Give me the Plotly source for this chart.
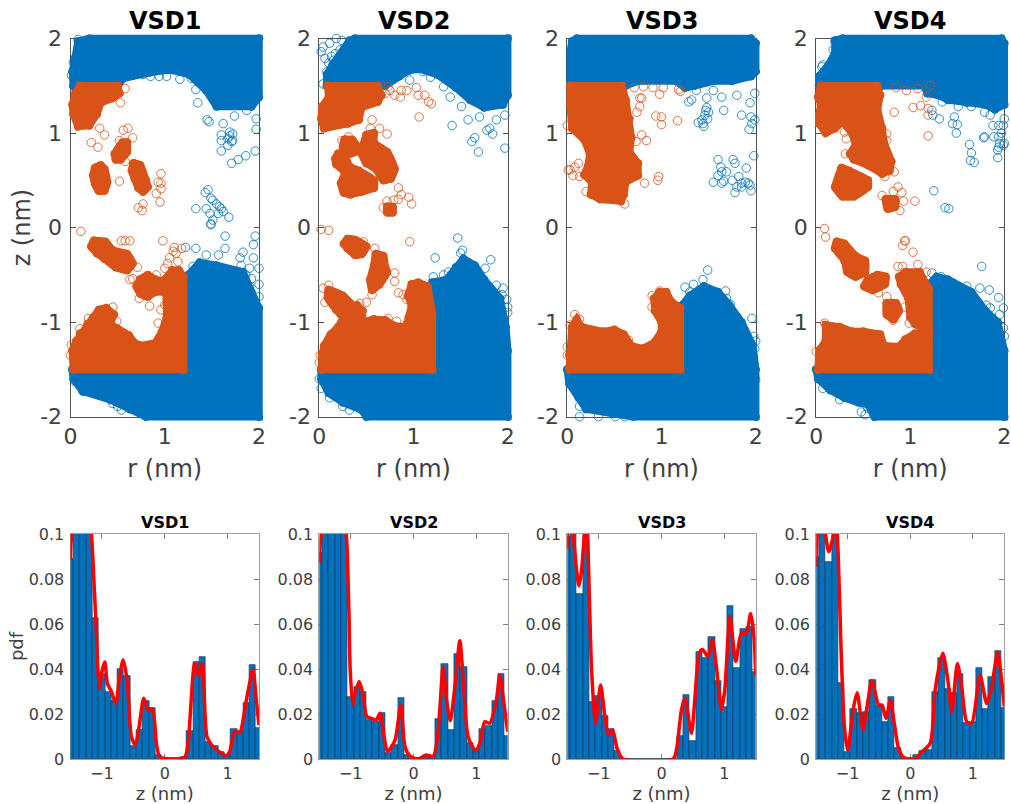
import plotly.graph_objects as go

W, H = 1011, 804
BLUE = "#0072BD"
ORANGE = "#D95319"
RED = "#FF0000"
AXC = "#505050"
FONT = "DejaVu Sans"
NAMES = ["VSD1", "VSD2", "VSD3", "VSD4"]

# ---- r/z maps: dense regions (outlines, r,z in nm) and isolated points (r,z in nm) ----
v1_blue_regions = [
    [(.03,1.5),(.02,1.65),(.05,1.8),(.08,1.97),(.2,2),(2,2),(2,1.38),(1.92,1.28),(1.55,1.28),(1.44,1.45),(1.26,1.62),(1.05,1.67),(.84,1.64),(.56,1.58),(.5,1.5)],
    [(.02,-1.5),(.03,-1.6),(.13,-1.73),(.42,-1.82),(.63,-1.92),(.8,-2),(2,-2),(2,-.85),(1.92,-.68),(1.83,-.47),(1.55,-.4),(1.37,-.37),(1.25,-.5),(1.2,-.6),(1.2,-1.5)],
]
v1_orange_regions = [
    [(.1,1.5),(.5,1.5),(.52,1.42),(.45,1.37),(.32,1.32),(.28,1.2),(.2,1.08),(.08,1.07),(.03,1.2),(.02,1.3),(.05,1.42)],
    [(.47,.78),(.55,.9),(.6,.9),(.6,.8),(.53,.72),(.48,.72)],
    [(.26,.63),(.32,.66),(.36,.62),(.39,.48),(.36,.39),(.3,.39),(.26,.46),(.24,.55)],
    [(.67,.68),(.74,.66),(.8,.5),(.82,.43),(.77,.38),(.72,.42),(.68,.52),(.65,.6)],
    [(.03,-1.5),(1.2,-1.5),(1.2,-.52),(1.15,-.45),(1.08,-.45),(1,-.55),(1.02,-.8),(1.02,-.95),(.97,-1.1),(.9,-1.22),(.75,-1.25),(.68,-1.22),(.62,-1.14),(.5,-1.07),(.42,-1.02),(.46,-.92),(.38,-.85),(.3,-.87),(.24,-.95),(.18,-1.02),(.1,-1.12),(.06,-1.2),(.02,-1.3)],
    [(.25,-.14),(.37,-.15),(.45,-.24),(.6,-.28),(.66,-.38),(.6,-.45),(.48,-.42),(.36,-.33),(.28,-.27),(.22,-.2)],
    [(.74,-.55),(.82,-.5),(.9,-.55),(1.02,-.58),(1.02,-.68),(.9,-.68),(.82,-.73),(.74,-.7),(.7,-.62)],
]
v1_blue_points = [(1.35,1.32),(1.33,1.46),(1.45,1.14),(1.47,1.12),(1.62,1.1),(1.97,1.04),(1.96,.81),(1.6,.81),(1.86,.76),(1.78,.72),(1.71,.68),(1.6,.98),(1.6,.92),(1.69,1.01),(1.72,.99),(1.67,.94),(1.71,.91),(1.67,.87),(1.72,.92),(1.69,.97),
    (1.33,.2),(1.43,.37),(1.46,.4),(1.51,.29),(1.49,.31),(1.44,.2),(1.55,.25),(1.48,.15),(1.51,.08),(1.49,.04),(1.6,.2),(1.62,.17),(1.68,.11),(1.57,.15),(1.58,.22),
    (.85,1.6),(.94,1.6),(1.02,1.6),(1.16,1.57),(.77,1.62),(.66,1.61),(1.28,1.58),(1.74,1.18),(1.87,1.24),(1.97,1.15),(.08,1.99),(.03,1.75),(.01,1.61),
    (1.49,.03),(1.64,-.09),(1.96,-.09),(1.94,-.18),(1.22,-.21),(1.33,-.22),(1.64,-.22),(1.57,-.29),(1.44,-.29),(1.83,-.26),(1.8,-.32),(1.94,-.32),(1.3,-.41),(2,-.43),(1.9,-.43),(1.92,-.54),(2,-.6),(1.9,-.62),(2,-.73),(1.81,-.4),(1.86,-.5),
    (.45,-1.86),(.54,-1.93),(.5,-1.89),(.58,-1.88),(.13,-1.73),(.05,-1.63)]
v1_orange_points = [(.58,1.47),(.53,1.32),(.36,.98),(.31,1.05),(.22,.9),(.29,.85),(.56,1.03),(.61,1.05),(.66,.95),(.59,.89),(.52,.92),(.52,.49),(.96,.57),(.96,.47),(.95,.27),(.91,.36),(.96,.41),(.77,.25),(.72,.21),(.76,.18),(.93,.48),(.58,.7),
    (.11,-.04),(.54,-.14),(.58,-.14),(.63,-.14),(.98,-.14),(1.1,-.21),(1.18,-.22),(1.05,-.32),(1.03,-.38),(1.12,-.27),(1.09,-.25),(1.14,-.36),(.71,-.42),(.63,-.55),(.66,-.54),(.84,-.83),(.73,-.75),(.96,-.87),(.93,-1.01),(.45,-.84),(.19,-.96),(.1,-1.07),(.01,-1.24),(0,-1.35),(.49,-.99),(1,-.82),(.91,-.5),(1,-.43)]

v2_blue_regions = [
    [(.08,1.5),(.08,1.62),(.14,1.72),(.28,1.9),(.32,1.98),(.38,2),(2,2),(2,1.4),(1.95,1.3),(1.75,1.27),(1.6,1.35),(1.45,1.48),(1.25,1.62),(1.05,1.68),(.95,1.66),(.85,1.6),(.7,1.5)],
    [(.02,-1.5),(.02,-1.6),(.1,-1.75),(.25,-1.85),(.45,-1.93),(.5,-2),(2,-2),(2,-1.3),(1.98,-1.05),(1.92,-.75),(1.75,-.55),(1.65,-.4),(1.53,-.33),(1.45,-.42),(1.35,-.55),(1.2,-.58),(1.2,-1.5)],
]
v2_orange_regions = [
    [(.09,1.5),(.62,1.5),(.66,1.4),(.62,1.33),(.45,1.27),(.42,1.14),(.3,1.1),(.15,1.08),(.05,1.05),(.02,1.15),(.03,1.28),(.1,1.38)],
    [(.5,.98),(.58,1),(.58,.9),(.72,.8),(.8,.62),(.76,.52),(.68,.5),(.6,.62),(.5,.68),(.45,.78),(.47,.88)],
    [(.2,.78),(.27,.76),(.32,.65),(.42,.6),(.58,.5),(.58,.42),(.45,.38),(.33,.35),(.26,.37),(.23,.47),(.27,.58),(.18,.67),(.17,.73)],
    [(.27,.93),(.35,.93),(.42,.82),(.32,.78),(.25,.85)],
    [(.72,.22),(.78,.22),(.78,.16),(.72,.16)],
    [(.03,-1.5),(1.2,-1.5),(1.2,-.9),(1.17,-.78),(1.15,-.62),(1.05,-.58),(.98,-.6),(.94,-.72),(.98,-.82),(.95,-.95),(.92,-1.05),(.8,-1.04),(.7,-.98),(.58,-.97),(.45,-1),(.46,-.88),(.4,-.82),(.3,-.88),(.2,-1.05),(.12,-1.13),(.05,-1.25),(.03,-1.35)],
    [(.1,-.66),(.25,-.72),(.33,-.8),(.36,-.9),(.28,-.97),(.18,-.87),(.09,-.74)],
    [(.3,-.12),(.38,-.13),(.5,-.2),(.45,-.28),(.38,-.29),(.3,-.22),(.26,-.17)],
    [(.6,-.28),(.68,-.3),(.7,-.42),(.72,-.47),(.64,-.6),(.56,-.66),(.54,-.55),(.58,-.4)],
]
v2_blue_points = [(.04,1.91),(.02,1.86),(.06,1.79),(.1,1.74),(.11,1.95),(.18,2),(.24,1.98),(.08,1.65),(.04,1.52),(.13,1.81),(.17,1.84),(.22,1.88),(.15,1.77),
    (1.41,1.08),(1.58,1.14),(1.7,1.17),(1.97,1.19),(1.88,1.14),(1.78,1.03),(1.81,1.05),(1.84,.99),(1.65,.95),(1.62,.91),(1.69,.8),(1.97,.84),(1.51,1.28),(1.39,1.38),(1.32,1.49),(1.18,1.59),(.96,1.56),(1.03,1.68),(1.1,1.65),
    (1.47,-.11),(1.23,-.32),(1.52,-.24),(1.5,-.27),(1.82,-.34),(1.76,-.43),(1.37,-.47),(1.42,-.52),(1.21,-.52),(1.32,-.5),(1.88,-.61),(1.95,-.64),(2,-.84),(2,-.9),(1.99,-.76),(1.94,-.71),(.11,-1.8),(.32,-1.93),(.02,-1.7),(.25,-1.89),(0,-1.6)]
v2_orange_points = [(.73,1.49),(.8,1.4),(.86,1.38),(.93,1.45),(1.03,1.48),(1.05,1.4),(1.12,1.4),(1.16,1.33),(1.19,1.31),(1.06,1.17),(.75,1.45),(.87,1.45),(.7,1.42),
    (.84,.42),(.84,.3),(.95,.32),(.98,.25),(.72,.28),(.79,.29),(.87,.35),(.68,.21),(.56,1.14),(.54,1.05),(.72,.99),(.64,1.05),(.31,.96),(.24,.92),(.02,-.02),(.1,-.03),
    (.96,-.15),(.59,-.22),(.8,-.48),(.8,-.57),(.84,-.69),(.89,-.71),(.93,-.76),(.43,-.8),(.5,-.79),(.56,-.71),(.06,-.79),(.1,-.61),(.04,-.64),(.73,-.96),(.82,-.99),(.93,-1.02),(0,-1.43),(.01,-1.35),(.43,-.89),(.47,-.15)]

v3_blue_regions = [
    [(.03,1.5),(.03,1.85),(.05,1.97),(.1,2),(1.95,2),(2,1.95),(2,1.65),(1.95,1.6),(1.75,1.55),(1.55,1.55),(1.35,1.5),(1.25,1.48),(1.15,1.55),(.75,1.55),(.62,1.5)],
    [(.0,-1.5),(.02,-1.65),(.12,-1.8),(.2,-1.92),(.5,-1.97),(.7,-2),(2,-2),(2,-1.5),(1.97,-1.25),(1.85,-1),(1.72,-.82),(1.6,-.68),(1.45,-.62),(1.3,-.72),(1.22,-.82),(1.2,-1.5)],
]
v3_orange_regions = [
    [(.03,1.5),(.58,1.5),(.62,1.35),(.66,1.15),(.68,.95),(.66,.8),(.75,.68),(.75,.55),(.62,.48),(.6,.35),(.57,.28),(.35,.3),(.25,.35),(.26,.48),(.18,.56),(.22,.65),(.24,.78),(.18,.93),(.05,1.05),(.03,1.3)],
    [(.02,-1.5),(1.2,-1.5),(1.2,-.85),(1.1,-.78),(1.05,-.68),(.98,-.68),(.92,-.75),(.93,-.88),(1,-1),(1,-1.1),(.92,-1.22),(.8,-1.28),(.68,-1.25),(.6,-1.13),(.5,-1.08),(.38,-1.1),(.15,-1.05),(.1,-.97),(.05,-1.05),(.02,-1.35)],
]
v3_blue_points = [(1.32,1.35),(1.29,1.33),(1.48,1.37),(1.64,1.38),(1.37,1.45),(1.55,1.45),(1.66,1.24),(1.85,1.19),(1.94,1.32),(1.95,1.17),(1.99,1.14),(1.93,1.04),(1.96,1.1),(1.8,1.4),(1.99,1.42),
    (1.48,1.27),(1.5,1.22),(1.46,1.19),(1.43,1.14),(1.44,1.1),(1.39,1.11),(1.49,1.15),(1.45,1.07),(1.47,1.24),
    (1.6,.72),(1.76,.72),(1.78,.68),(1.98,.76),(1.9,.63),(1.63,.64),(1.64,.59),(1.6,.55),(1.55,.48),(1.64,.47),(1.66,.49),(1.75,.5),(1.82,.54),(1.8,.43),(1.78,.37),(1.85,.47),(1.89,.48),(1.94,.45),(1.92,.47),(1.95,.39),(1.69,.59),(1.85,.43),
    (1.49,-.45),(1.44,-.55),(1.34,-.6),(1.25,-.63),(1.3,-.68),(1.68,-.67),(1.73,-.81),(1.69,-.75),(1.8,-.94),(1.96,-.96),(1.98,-1.15),(2,-1.2),(1.89,-1.13),(1.99,-1.28),(.13,-2),(.13,-1.89),(.33,-2),(.51,-2),(.61,-2),(2,-1.61)]
v3_orange_points = [(0,1.08),(.79,1.37),(.77,1.37),(.77,1.28),(.74,1.22),(.94,1.18),(1,1.17),(1,1.09),(1.17,1.13),(.79,.98),(.84,.92),(.73,.91),(.97,.54),(.96,.5),(.82,.47),(.71,1.48),(.81,1.49),(.91,1.48),(1.02,1.48),(.98,1.41),(1.18,1.46),(1.2,1.44),(.61,.25),(.03,.61),(.12,.68),(.06,.55),(.13,.54),(.08,.64),(.01,.61),(.2,.38),
    (.9,-.72),(.9,-.84),(.98,-.67),(.08,-.92),(.13,-.97),(.03,-1.03),(0,-1.26),(0,-1.35),(.65,-1.19),(.81,-1.29)]

v4_blue_regions = [
    [(.03,1.5),(.03,1.6),(.13,1.72),(.2,1.85),(.2,1.98),(.28,2),(1.97,2),(2,1.95),(2,1.3),(1.9,1.25),(1.8,1.3),(1.6,1.32),(1.4,1.35),(1.3,1.4),(1.18,1.42),(1.15,1.5),(.7,1.5)],
    [(.0,-1.5),(.02,-1.6),(.15,-1.72),(.3,-1.8),(.45,-1.85),(.55,-1.87),(.62,-2),(2,-2),(2,-1.3),(1.93,-1),(1.8,-.88),(1.65,-.68),(1.4,-.55),(1.28,-.52),(1.2,-.6),(1.2,-1.5)],
]
v4_orange_regions = [
    [(.05,1.5),(.65,1.5),(.68,1.4),(.65,1.25),(.7,1.05),(.72,.9),(.8,.7),(.78,.6),(.7,.57),(.55,.66),(.4,.72),(.36,.78),(.42,.88),(.38,1),(.28,1.12),(.2,1.05),(.1,1),(.03,1.1),(.03,1.2),(.05,1.3),(.02,1.38)],
    [(.27,.63),(.35,.6),(.55,.5),(.55,.43),(.4,.33),(.28,.33),(.2,.43),(.24,.55)],
    [(.74,.3),(.84,.3),(.84,.22),(.76,.2)],
    [(.02,-1.5),(1.2,-1.5),(1.2,-1.12),(1.05,-1.12),(.95,-1.18),(.88,-1.26),(.72,-1.25),(.68,-1.13),(.5,-1.1),(.38,-1.1),(.25,-1.05),(.1,-1.03),(.1,-1.2),(.03,-1.3)],
    [(.22,-.15),(.3,-.17),(.42,-.3),(.52,-.35),(.52,-.47),(.42,-.52),(.33,-.47),(.3,-.35),(.2,-.22)],
    [(.55,-.55),(.65,-.5),(.74,-.52),(.73,-.6),(.6,-.66),(.51,-.62)],
    [(.75,-.8),(.85,-.8),(.88,-.88),(.82,-.97),(.75,-.92)],
    [(.95,-.47),(1.1,-.47),(1.2,-.65),(1.2,-1.1),(1.05,-1.02),(1,-.95),(.98,-.75),(.9,-.6),(.88,-.52)],
]
v4_blue_points = [(.07,1.72),(.06,1.7),(.2,1.97),(.21,1.89),(.18,1.88),(1.31,1.15),(1.24,1.19),(1.23,1.24),(1.45,1.1),(1.5,1.09),(1.47,1.17),(1.49,1),(1.63,.88),(1.65,.79),(1.64,.71),(1.68,.69),(1.78,.95),(1.79,.96),(1.93,.74),(1.93,.82),(1.25,.39),(1.37,.21),(1.41,.2),(1.34,1.33),(1.51,1.28),(1.65,1.28),(1.88,1.08),(1.94,1.08),(1.99,1.08),(1.97,1),(1.89,.96),(1.94,.96),(1.95,.89),(1.99,.87),(2,.89),(1.94,.85),(2,1.15),(1.85,1.19),(1.79,1.22),
    (1.76,-.41),(1.74,-.64),(1.84,-.66),(1.94,-.74),(1.99,-.85),(1.95,-.92),(2,-1.15),(1.99,-1.06),(1.46,-.59),(1.33,-.52),(1.23,-.48),(1.6,-.62),(1.85,-.85),(.52,-1.98),(.48,-1.95),(.55,-1.91),(.25,-1.82),(.07,-1.7),(1.9,-.99),(1.81,-.82)]
v4_orange_points = [(.83,1.22),(1.03,1.27),(1.11,1.29),(1.19,1.19),(1.19,.97),(1.21,1.5),(1.17,1.38),(1.19,1.26),(1.05,.28),(.87,.43),(.91,.37),(.82,.38),(.93,.28),(.7,.34),(.89,.18),(.3,1.01),(.32,.94),(.31,.78),(.83,.59),(.73,.54),(.96,1.45),(.85,1.48),(1.08,1.47),(.75,.99),(.75,.92),(.09,-.01),(.1,-.1),(.94,-.14),
    (.95,-.14),(.92,-.19),(1.03,-.26),(1.08,-.39),(.87,-.41),(.92,-.41),(1.17,-.47),(.66,-.69),(.75,-.73),(.94,-.84),(.99,-1.01),(.82,-.98),(0,-1.31),(.09,-1.01)]

# ---- pdf histograms: 31 bins centred on -1.5 ... 1.5, width 0.1 ----
bin_centers = [round(-1.5 + 0.1 * i, 1) for i in range(31)]
v1_bars = [.089,.13,.12,.11,.0625,.038,.030,.026,.040,.037,.006,.013,.026,.0225,.002,.0003,.0003,.0005,.0008,.0125,.043,.0455,.0077,.0058,.003,.002,.0133,.0126,.025,.042,.014]
v2_bars = [.0914,.13,.12,.125,.105,.0277,.032,.030,.0173,.0163,.0203,.0025,.0062,.0273,.0018,.0002,.0005,.0015,.0012,.0178,.0422,.0129,.0467,.041,.007,.004,.0132,.0148,.0258,.038,.0104]
v3_bars = [.0988,.115,.0733,.105,.0255,.028,.0191,.0132,.0037,.0001,0,0,0,0,0,0,0,0,.0104,.0283,.0081,.0477,.0447,.0541,.0347,.0233,.068,.0406,.0576,.0585,.0388]
v4_bars = [.0896,.125,.0877,.115,.0336,.0033,.0222,.0206,.0207,.0351,.0236,.0166,.0277,.0047,.0003,.0003,.0018,.0037,.004,.0299,.0447,.0311,.0295,.0378,.0159,.0164,.0406,.0222,.0363,.048,.0225]

# ---- pdf curves (z, density); parts above 0.1 are outside the visible range ----
v1_curve = [(-1.5,.0885),(-1.495,.0945),(-1.48,.1),(-1.4,.125),(-1.25,.125),(-1.166,.1),(-1.124,.0773),(-1.087,.0557),(-1.06,.0379),(-1.034,.0313),(-1.007,.0379),(-.954,.0431),(-.912,.0335),(-.848,.0299),(-.779,.0247),(-.726,.0351),(-.663,.044),(-.599,.0351),(-.53,.0099),(-.467,.0062),(-.408,.0144),(-.334,.027),(-.265,.0219),(-.196,.0222),(-.133,.007),(-.08,.001),(.079,0),(.318,.0007),(.371,.007),(.477,.0427),(.54,.037),(.599,.0427),(.673,.0099),(.768,.0055),(.98,.0015),(1.033,.0033),(1.113,.0121),(1.192,.0117),(1.298,.0261),(1.404,.0397),(1.457,.0261),(1.5,.0151)]
v2_curve = [(-1.5,.0873),(-1.484,.0959),(-1.468,.1),(-1.4,.125),(-1.2,.125),(-1.071,.1),(-1.029,.0662),(-1.008,.0396),(-.966,.024),(-.929,.0292),(-.865,.0344),(-.807,.0292),(-.743,.0188),(-.675,.0181),(-.595,.0173),(-.532,.0203),(-.468,.0099),(-.415,.0033),(-.294,.0084),(-.204,.024),(-.135,.0055),(-.056,.0013),(.077,0),(.198,.0018),(.315,.0013),(.384,.0099),(.473,.041),(.526,.0262),(.585,.017),(.659,.0321),(.738,.0526),(.802,.0307),(.87,.0099),(.987,.0037),(1.056,.007),(1.135,.0166),(1.214,.0159),(1.32,.0262),(1.373,.0373),(1.426,.0277),(1.5,.0121)]
v3_curve = [(-1.5,.0936),(-1.495,.1),(-1.45,.112),(-1.405,.1),(-1.352,.084),(-1.314,.0769),(-1.272,.084),(-1.23,.0988),(-1.2,.104),(-1.18,.1),(-1.15,.0736),(-1.113,.0396),(-1.05,.0159),(-.97,.0329),(-.901,.0188),(-.848,.0107),(-.779,.0129),(-.7,.004),(-.61,0),(.185,0),(.238,.004),(.318,.0218),(.371,.027),(.477,.0114),(.53,.0262),(.6,.047),(.651,.0487),(.742,.0455),(.81,.0529),(.874,.041),(.954,.0218),(1.007,.0307),(1.091,.0633),(1.182,.0433),(1.272,.0559),(1.351,.0559),(1.42,.0647),(1.473,.0544),(1.5,.0373)]
v4_curve = [(-1.5,.0855),(-1.484,.1),(-1.42,.115),(-1.352,.1),(-1.299,.0921),(-1.219,.1),(-1.18,.105),(-1.15,.0914),(-1.103,.0484),(-1.05,.0144),(-.997,.0037),(-.912,.0218),(-.848,.0295),(-.795,.0203),(-.753,.0129),(-.689,.0233),(-.61,.0348),(-.504,.024),(-.451,.024),(-.387,.0181),(-.318,.0262),(-.255,.0159),(-.186,.0047),(-.106,.0007),(.08,0),(.159,.0025),(.318,.007),(.397,.0307),(.519,.047),(.599,.0351),(.662,.021),(.752,.0425),(.821,.0321),(.901,.0166),(.98,.0159),(1.113,.0373),(1.219,.0247),(1.298,.0321),(1.394,.0473),(1.457,.0351),(1.5,.0233)]

blue_regions = [v1_blue_regions, v2_blue_regions, v3_blue_regions, v4_blue_regions]
orange_regions = [v1_orange_regions, v2_orange_regions, v3_orange_regions, v4_orange_regions]
blue_points = [v1_blue_points, v2_blue_points, v3_blue_points, v4_blue_points]
orange_points = [v1_orange_points, v2_orange_points, v3_orange_points, v4_orange_points]
bars = [v1_bars, v2_bars, v3_bars, v4_bars]
curves = [v1_curve, v2_curve, v3_curve, v4_curve]

# ---- layout in pixels ----
panel_x = [(70.5, 259.0), (319.3, 507.7), (567.3, 755.7), (816.2, 1004.3)]
top_y = (38.5, 416.7)
bot_y = (534.0, 759.0)
PAD = 8.0  # px of overhang: the data layer is a hidden pair of axes a little larger than the box


def region_trace(poly, color, xa, ya):
    rr = [p[0] for p in poly] + [poly[0][0]]
    zz = [p[1] for p in poly] + [poly[0][1]]
    # long straight edges (the cut-offs at r=1.2, z=+-1.5, z=+-2) stay straight; small blobs are rounded
    longest = max(abs(rr[k + 1] - rr[k]) + abs(zz[k + 1] - zz[k]) for k in range(len(rr) - 1))
    line = dict(color=color, width=7.5)
    if longest < 0.4:
        line.update(shape="spline", smoothing=0.6)
    return go.Scatter(x=rr, y=zz, xaxis=xa, yaxis=ya, mode="lines+markers", fill="toself", fillcolor=color,
                      line=line, marker=dict(size=8.5, color=color, line=dict(width=0)),
                      hoverinfo="skip", showlegend=False)


def point_trace(pts, color, xa, ya):
    return go.Scatter(x=[p[0] for p in pts], y=[p[1] for p in pts], xaxis=xa, yaxis=ya, mode="markers",
                      marker=dict(symbol="circle-open", size=8.5, color=color, line=dict(width=0.8, color=color)),
                      hoverinfo="skip", showlegend=False)


fig = go.Figure()
layout = dict(width=W, height=H, autosize=False, margin=dict(l=0, r=0, t=0, b=0, autoexpand=False), paper_bgcolor="white",
              plot_bgcolor="rgba(0,0,0,0)", bargap=0, showlegend=False, font=dict(family=FONT, color="#404040"), template="none")
annots = []


def axis_common(size):
    return dict(showgrid=False, zeroline=False, showline=True, mirror="ticks", linecolor=AXC, linewidth=1, automargin=False,
                ticks="inside", ticklen=5, tickcolor=AXC, tickwidth=1, layer="below traces", ticklabeloverflow="allow",
                tickfont=dict(family=FONT, size=size, color="#404040"))


for i in range(4):
    x0, x1 = panel_x[i]
    # box panel, axes only
    xa, ya = f"x{2*i+1}", f"y{2*i+1}"
    layout[f"xaxis{2*i+1}"] = dict(axis_common(22), domain=[x0 / W, x1 / W], range=[0, 2], tickvals=[0, 1, 2], anchor=ya,
                                   title=dict(text="r (nm)", standoff=12, font=dict(family=FONT, size=24, color="#404040")))
    layout[f"yaxis{2*i+1}"] = dict(axis_common(22), domain=[1 - top_y[1] / H, 1 - top_y[0] / H], range=[-2, 2], ticklabelstandoff=3,
                                   tickvals=[-2, -1, 0, 1, 2], ticktext=["-2", "-1", "0", "1", "2"], anchor=xa,
                                   title=dict(text="z (nm)" if i == 0 else "", standoff=2, font=dict(family=FONT, size=24, color="#404040")))
    fig.add_trace(go.Scatter(x=[], y=[], xaxis=xa, yaxis=ya, hoverinfo="skip", showlegend=False))
    # data layer over the box: same scale, extended by PAD px on every side
    xd, yd = f"x{9+i}", f"y{9+i}"
    sx = 2.0 / (x1 - x0)
    sy = 4.0 / (top_y[1] - top_y[0])
    layout[f"xaxis{9+i}"] = dict(domain=[(x0 - PAD) / W, min(x1 + PAD, W) / W], range=[-PAD * sx, 2 + (min(x1 + PAD, W) - x1) * sx],
                                 anchor=yd, visible=False, automargin=False, fixedrange=True)
    layout[f"yaxis{9+i}"] = dict(domain=[1 - (top_y[1] + PAD) / H, 1 - (top_y[0] - PAD) / H], range=[-2 - PAD * sy, 2 + PAD * sy],
                                 anchor=xd, visible=False, automargin=False, fixedrange=True)
    for poly in blue_regions[i]:
        fig.add_trace(region_trace(poly, BLUE, xd, yd))
    fig.add_trace(point_trace(blue_points[i], BLUE, xd, yd))
    for poly in orange_regions[i]:
        fig.add_trace(region_trace(poly, ORANGE, xd, yd))
    fig.add_trace(point_trace(orange_points[i], ORANGE, xd, yd))
    annots.append(dict(text=f"<b>{NAMES[i]}</b>", x=(x0 + x1) / 2 / W, y=1 - 21 / H, xref="paper", yref="paper",
                       xanchor="center", yanchor="middle", showarrow=False, font=dict(family=FONT, size=24, color="black")))
    # pdf panel
    xb, yb = f"x{2*i+2}", f"y{2*i+2}"
    fig.add_trace(go.Bar(x=bin_centers, y=bars[i], xaxis=xb, yaxis=yb, width=0.1, hoverinfo="skip", showlegend=False,
                         marker=dict(color=BLUE, line=dict(color="#1c3a55", width=0.7))))
    fig.add_trace(go.Scatter(x=[p[0] for p in curves[i]], y=[p[1] for p in curves[i]], xaxis=xb, yaxis=yb, mode="lines",
                             line=dict(color=RED, width=3.5, shape="spline", smoothing=0.7), hoverinfo="skip", showlegend=False))
    layout[f"xaxis{2*i+2}"] = dict(axis_common(16), domain=[x0 / W, x1 / W], range=[-1.5, 1.5], tickvals=[-1, 0, 1], anchor=yb,
                                   linecolor="#a0a0a0", tickcolor="#808080",
                                   title=dict(text="z (nm)", standoff=6, font=dict(family=FONT, size=18, color="#404040")))
    layout[f"yaxis{2*i+2}"] = dict(axis_common(16), domain=[1 - bot_y[1] / H, 1 - bot_y[0] / H], range=[0, 0.1], ticklabelstandoff=2,
                                   tickvals=[0, .02, .04, .06, .08, .1], ticktext=["0", "0.02", "0.04", "0.06", "0.08", "0.1"], anchor=xb,
                                   linecolor="#a0a0a0", tickcolor="#808080",
                                   title=dict(text="pdf" if i == 0 else "", standoff=0, font=dict(family=FONT, size=18, color="#404040")))
    annots.append(dict(text=f"<b>{NAMES[i]}</b>", x=(x0 + x1) / 2 / W, y=1 - 522 / H, xref="paper", yref="paper",
                       xanchor="center", yanchor="middle", showarrow=False, font=dict(family=FONT, size=16, color="black")))

layout["annotations"] = annots
fig.update_layout(**layout)
fig.write_html("out.html", config={"displayModeBar": False},
               post_script="document.body.style.margin='0';document.documentElement.style.overflow='hidden';")
